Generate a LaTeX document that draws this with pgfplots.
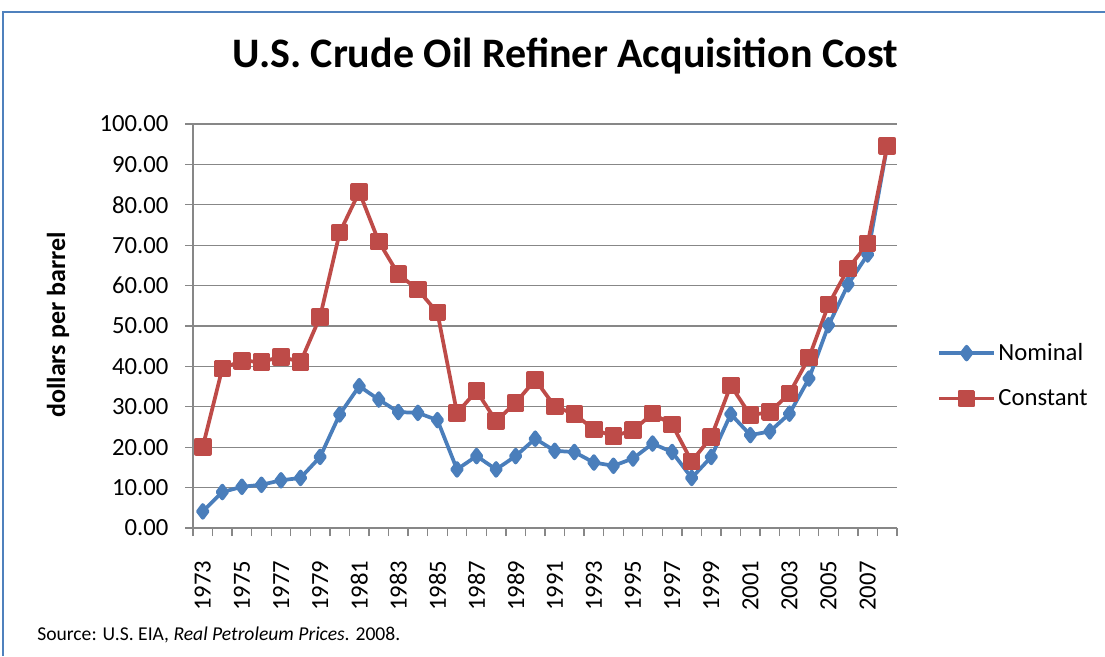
\documentclass[border=0pt]{standalone}
\usepackage{pgfplots}
\pgfplotsset{compat=1.18}
\usepackage{fontspec}
\setmainfont{Carlito}
\definecolor{serblue}{HTML}{4A7EBB}
\definecolor{serred}{HTML}{BE4B48}
\definecolor{gridgray}{HTML}{878787}
\definecolor{frameblue}{HTML}{4F81BD}
\begin{document}
\begin{tikzpicture}[x=0.75pt,y=0.75pt]
\path[use as bounding box] (0,0) rectangle (1105,656);
\draw[frameblue, line width=1.5pt] (3,0) -- (3,644) -- (1105,644);
\node[anchor=base, inner sep=0pt, font=\fontsize{31.5}{34}\selectfont\bfseries] at (565,588) {U.S. Crude Oil Refiner Acquisition Cost};
\node[rotate=90, inner sep=0pt, font=\fontsize{19.5}{22}\selectfont\bfseries] at (58,331) {dollars per barrel};
\node[anchor=base west, inner sep=0pt, font=\fontsize{14.7}{17}\selectfont] at (37,16) {Source: U.S. EIA, \textit{Real Petroleum Prices}. 2008.};
\begin{axis}[
  at={(144.75pt,96pt)}, anchor=south west,
  scale only axis, width=528pt, height=303pt,
  xmin=1972.5, xmax=2008.5, ymin=0, ymax=100,
  axis lines*=left,
  axis line style={gridgray, line width=1pt},
  ymajorgrids, grid style={gridgray, line width=1pt},
  ytick={0,10,...,100},
  yticklabel={\pgfmathprintnumber[fixed,fixed zerofill,precision=2]{\tick}},
  tick align=outside, major tick length=6pt,
  tick style={gridgray, line width=1pt},
  xtick={1972.5,1973.5,...,2008.5}, xticklabels={},
  extra x ticks={1973,1975,...,2007},
  extra x tick style={major tick length=0pt, xticklabel style={rotate=90, anchor=east}},
  /pgf/number format/set thousands separator={},
  /pgf/number format/assume math mode=true,
  ticklabel style={font=\fontsize{18.5}{20}\selectfont},
  yticklabel shift=9pt,
  xticklabel shift=21pt,
  legend style={draw=none, fill=none, at={(1.057,0.3775)}, anchor=west, inner sep=0pt, row sep=16pt, font=\fontsize{18.5}{20}\selectfont, nodes={inner sep=2pt}},
  legend cell align=left,
  legend image code/.code={\draw[mark repeat=2,mark phase=2,#1] plot coordinates {(0pt,0pt) (20.5pt,0pt) (41pt,0pt)};},
  every axis plot/.append style={line width=2.8pt, line join=round},
  clip=false,
]
\addplot[serblue, mark=diamond*, mark size=4.8pt, mark options={solid}] coordinates {
(1973,4.1) (1974,8.9) (1975,10.2) (1976,10.7) (1977,11.8) (1978,12.4) (1979,17.6) (1980,28.1)
(1981,35.1) (1982,31.8) (1983,28.7) (1984,28.5) (1985,26.7) (1986,14.5) (1987,17.8) (1988,14.5)
(1989,17.8) (1990,22.1) (1991,19.1) (1992,18.8) (1993,16.2) (1994,15.4) (1995,17.2) (1996,20.9)
(1997,18.8) (1998,12.4) (1999,17.6) (2000,28.2) (2001,23.0) (2002,23.9) (2003,28.3) (2004,37.0)
(2005,50.2) (2006,60.3) (2007,67.7) (2008,94.6)
};
\addlegendentry{Nominal}
\addplot[serred, mark=square*, mark size=5.2pt, mark options={solid}] coordinates {
(1973,20.1) (1974,39.5) (1975,41.4) (1976,41.1) (1977,42.4) (1978,41.1) (1979,52.3) (1980,73.1)
(1981,83.2) (1982,70.9) (1983,62.8) (1984,59.0) (1985,53.3) (1986,28.5) (1987,33.9) (1988,26.5)
(1989,31.0) (1990,36.7) (1991,30.1) (1992,28.2) (1993,24.4) (1994,22.7) (1995,24.2) (1996,28.3)
(1997,25.6) (1998,16.5) (1999,22.5) (2000,35.3) (2001,27.9) (2002,28.7) (2003,33.3) (2004,42.2)
(2005,55.3) (2006,64.2) (2007,70.4) (2008,94.6)
};
\addlegendentry{Constant}
\end{axis}
\end{tikzpicture}
\end{document}
